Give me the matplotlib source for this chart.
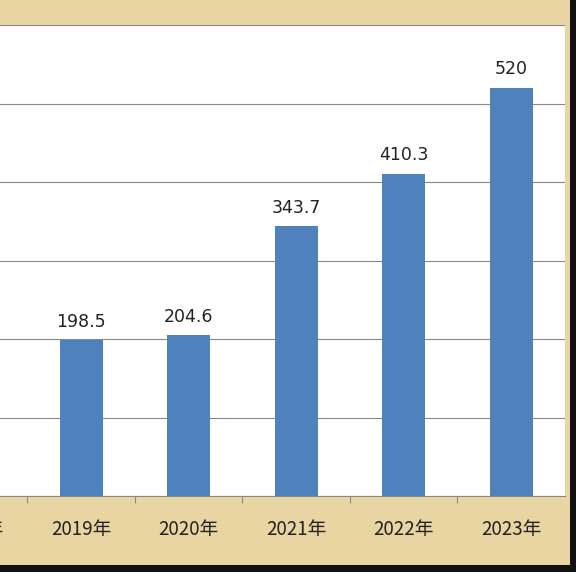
import numpy as np
import matplotlib.pyplot as plt
from matplotlib.patches import Rectangle
from matplotlib.transforms import blended_transform_factory

plt.rcParams['font.family'] = ['Noto Sans CJK SC', 'DejaVu Sans']

# data
years = ['2018年', '2019年', '2020年', '2021年', '2022年', '2023年']
values = [np.nan, 198.5, 204.6, 343.7, 410.3, 520]
labels = ['', '198.5', '204.6', '343.7', '410.3', '520']

W, H = 583, 584
fig = plt.figure(figsize=(W / 100, H / 100), dpi=100)
fig.patch.set_facecolor('white')

# parchment frame and shadow
fig.patches.append(Rectangle((0, (H - 572) / H), 576 / W, 572 / H,
                             transform=fig.transFigure, facecolor='#111111', zorder=-2))
fig.patches.append(Rectangle((0, (H - 565) / H), 570 / W, 565 / H,
                             transform=fig.transFigure, facecolor='#e8d5a2', zorder=-1))

# plot area: white from x 0..565, y 25..496 (pixels)
left_px, right_px, top_px, bot_px = 0, 565, 25, 496
ax = fig.add_axes([left_px / W, (H - bot_px) / H,
                   (right_px - left_px) / W, (bot_px - top_px) / H])
ax.set_facecolor('white')

x = np.arange(len(years))
step = 107.5

ax.bar(x, values, width=0.4, color='#4f81bd', zorder=3)
for xi, v, lab in zip(x, values, labels):
    if lab:
        ax.text(xi, v + 12, lab, ha='center', va='bottom', fontsize=12.5,
                color='#222222', family=['DejaVu Sans'])

ax.set_yticks(np.arange(0, 601, 100))
ax.yaxis.grid(True, color='#888888', linewidth=0.8, zorder=0)
ax.tick_params(axis='y', length=0, labelleft=False)
ax.set_xticks(x - 0.5)
ax.set_xticklabels([])
ax.tick_params(axis='x', length=5, color='#888888', direction='out')

# category labels drawn as text so the cut-off one at the left edge still shows
trans = blended_transform_factory(ax.transData, ax.transAxes)
for xi, yr in zip(x, years):
    ax.text(xi, -0.072, yr, transform=trans, ha='center', va='center',
            fontsize=13.5, color='#222222', clip_on=False)

for s in ['top', 'right', 'left']:
    ax.spines[s].set_visible(False)
ax.spines['bottom'].set_color('#888888')

ax.set_xlim(1 - (81 - left_px) / step, 1 + (right_px - 81) / step)
ax.set_ylim(0, 600)

fig.savefig('out.png', dpi=100, facecolor=fig.get_facecolor())
